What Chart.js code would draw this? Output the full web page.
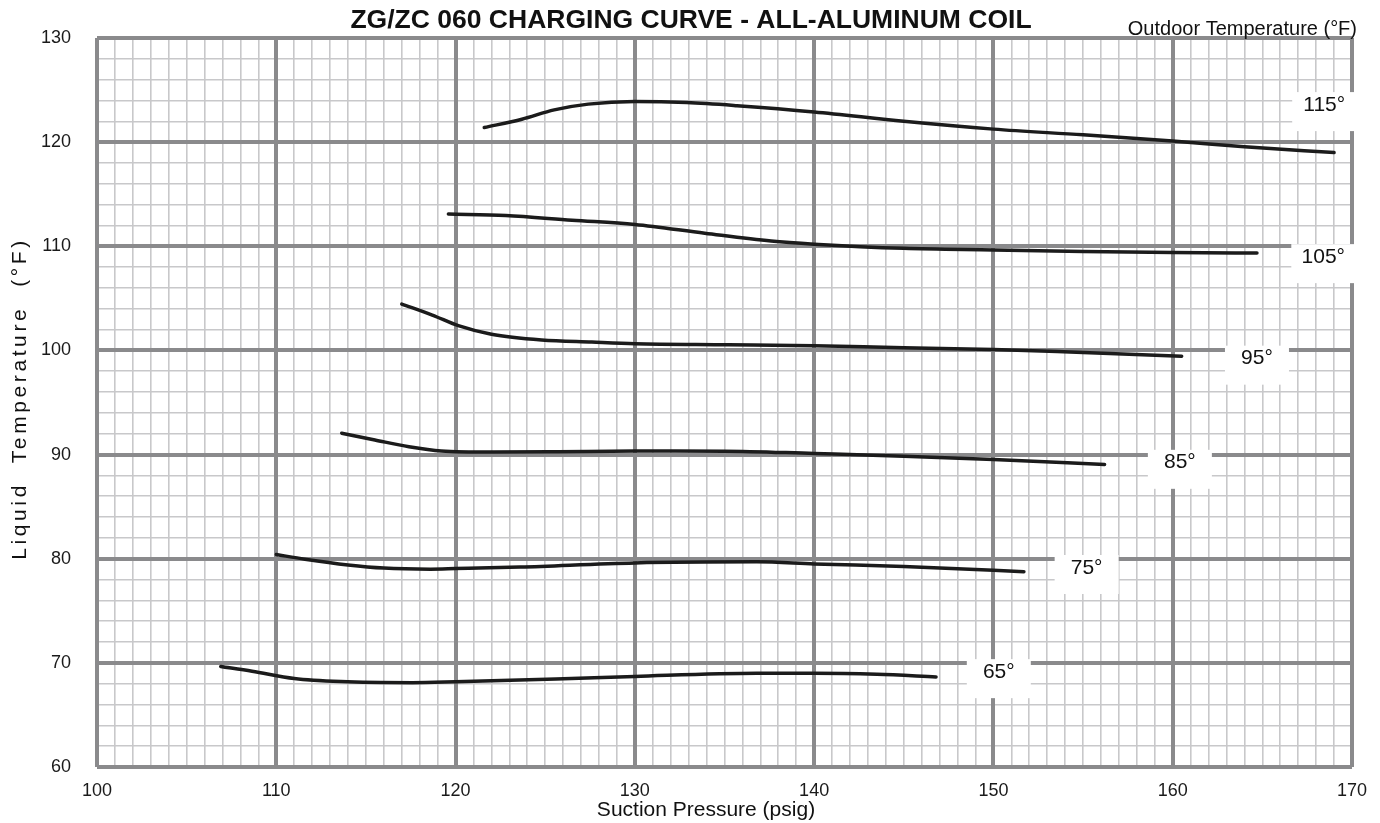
<!DOCTYPE html>
<html>
<head>
<meta charset="utf-8">
<title>ZG/ZC 060 Charging Curve</title>
<script src="https://cdn.jsdelivr.net/npm/chart.js@4.4.1/dist/chart.umd.min.js"></script>
<style>
    html, body { margin: 0; padding: 0; background: #ffffff; }
    #chart { display: block; }
</style>
</head>
<body>
<canvas id="chart" width="1380" height="823"></canvas>
<script>
// Charging curve for the ZG/ZC 060 all-aluminum coil.
// One curve per outdoor temperature: liquid temperature against suction pressure.

const FONT = "'Liberation Sans', Arial, sans-serif";

const outdoorTemps = ['115°', '105°', '95°', '85°', '75°', '65°'];

const pressure115 = [121.6, 123.7, 125.5, 127.4, 130, 132.9, 135.7, 140, 145, 150, 155, 160, 164, 169];
const liquid115 = [121.4, 122.2, 123.1, 123.65, 123.9, 123.8, 123.5, 122.9, 122.0, 121.25, 120.7, 120.1, 119.55, 119.0];

const pressure105 = [119.6, 122.8, 126.5, 130, 133.9, 137.6, 140, 145, 150, 155, 160, 164.7];
const liquid105 = [113.1, 112.95, 112.5, 112.1, 111.25, 110.5, 110.2, 109.8, 109.65, 109.5, 109.4, 109.35];

const pressure95 = [117.0, 118.7, 120.2, 122.0, 124.8, 127.6, 130, 135.2, 140, 145, 150, 155, 160.5];
const liquid95 = [104.45, 103.4, 102.35, 101.55, 101.0, 100.8, 100.65, 100.55, 100.45, 100.25, 100.1, 99.8, 99.45];

const pressure85 = [113.65, 115.5, 117.4, 119.2, 122.0, 125.7, 130, 135, 140, 145, 150, 156.2];
const liquid85 = [92.05, 91.4, 90.75, 90.35, 90.25, 90.28, 90.34, 90.33, 90.1, 89.85, 89.52, 89.05];

const pressure75 = [110.0, 111.6, 114.0, 116.0, 118.6, 120, 123.6, 130, 136.8, 140, 145, 150, 151.7];
const liquid75 = [80.4, 79.95, 79.4, 79.1, 79.0, 79.05, 79.2, 79.6, 79.7, 79.5, 79.25, 78.9, 78.75];

const pressure65 = [106.9, 108.65, 111.0, 113.6, 117.6, 120, 125.6, 130, 136.8, 140, 143.5, 146.8];
const liquid65 = [69.65, 69.2, 68.5, 68.2, 68.1, 68.18, 68.44, 68.7, 69.0, 69.0, 68.9, 68.65];

const pressureTicks = [100, 110, 120, 130, 140, 150, 160, 170];
const liquidTicks = [60, 70, 80, 90, 100, 110, 120, 130];

const curves = [
    [pressure115, liquid115],
    [pressure105, liquid105],
    [pressure95, liquid95],
    [pressure85, liquid85],
    [pressure75, liquid75],
    [pressure65, liquid65]
];

function toPoints(xs, ys) {
    return xs.map((x, i) => ({ x, y: ys[i] }));
}

// white boxes with the outdoor temperature, placed in data units
const curveLabelPlugin = {
    id: 'curveLabels',
    afterDatasetsDraw(chart, args, opts) {
        const { ctx, scales } = chart;
        ctx.save();
        ctx.font = `21px ${FONT}`;
        ctx.textAlign = 'center';
        ctx.textBaseline = 'alphabetic';
        opts.spots.forEach((spot, i) => {
            const px = scales.x.getPixelForValue(spot[0]);
            const py = scales.y.getPixelForValue(spot[1]);
            ctx.fillStyle = '#ffffff';
            ctx.fillRect(px - 32, py - 11, 64, 39);
            ctx.fillStyle = '#111111';
            ctx.fillText(outdoorTemps[i], px, py + 7.5);
        });
        ctx.restore();
    }
};

const titlesPlugin = {
    id: 'titles',
    afterDraw(chart) {
        const { ctx, chartArea } = chart;
        ctx.save();
        ctx.fillStyle = '#111111';

        ctx.font = `bold 26.5px ${FONT}`;
        ctx.textAlign = 'center';
        ctx.fillText('ZG/ZC 060 CHARGING CURVE - ALL-ALUMINUM COIL', 691, 28);

        ctx.font = `20px ${FONT}`;
        ctx.textAlign = 'right';
        ctx.fillText('Outdoor Temperature (°F)', 1357, 35);

        ctx.font = `21px ${FONT}`;
        ctx.textAlign = 'center';
        ctx.fillText('Suction Pressure (psig)', 706, 816);

        ctx.translate(26, (chartArea.top + chartArea.bottom) / 2 - 4);
        ctx.rotate(-Math.PI / 2);
        ctx.font = `21px ${FONT}`;
        ctx.letterSpacing = '3.6px';
        ctx.fillText('Liquid  Temperature  (°F)', 0, 0);
        ctx.restore();
    }
};

function labelEvery10(value, allowed) {
    return allowed.includes(value) ? value : '';
}

const chart = new Chart(document.getElementById('chart'), {
    type: 'scatter',
    data: {
        datasets: curves.map((c, i) => ({
            label: outdoorTemps[i],
            data: toPoints(c[0], c[1]),
            showLine: true,
            borderColor: '#1b1b1b',
            borderWidth: 3.5,
            borderCapStyle: 'round',
            pointRadius: 0,
            cubicInterpolationMode: 'monotone'
        }))
    },
    options: {
        responsive: false,
        animation: false,
        layout: { padding: { top: 38, right: 22, left: 0, bottom: 0 } },
        plugins: {
            legend: { display: false },
            tooltip: { enabled: false },
            curveLabels: {
                spots: [[168.45, 123.75], [168.4, 109.15], [164.7, 99.4], [160.4, 89.4], [155.2, 79.3], [150.3, 69.3]]
            }
        },
        scales: {
            x: {
                type: 'linear',
                position: 'bottom',
                min: 100,
                max: 170,
                afterFit: s => { s.height = 56; },
                ticks: {
                    stepSize: 1,
                    autoSkip: false,
                    maxRotation: 0,
                    padding: 13,
                    color: '#1a1a1a',
                    font: { family: FONT, size: 18 },
                    callback: v => labelEvery10(v, pressureTicks)
                },
                grid: { color: '#c8c8ca', lineWidth: 1.6, drawTicks: false },
                border: { display: false }
            },
            y: {
                type: 'linear',
                position: 'left',
                min: 60,
                max: 130,
                afterFit: s => { s.width = 97; },
                ticks: {
                    stepSize: 2,
                    autoSkip: false,
                    align: 'inner',
                    padding: 26,
                    color: '#1a1a1a',
                    font: { family: FONT, size: 18 },
                    callback: v => labelEvery10(v, liquidTicks)
                },
                grid: { color: '#c8c8ca', lineWidth: 1.6, drawTicks: false },
                border: { display: false }
            },
            xMajor: {
                type: 'linear',
                axis: 'x',
                position: 'bottom',
                min: 100,
                max: 170,
                afterFit: s => { s.height = 0; },
                ticks: { display: false, stepSize: 10 },
                grid: { color: '#8a8a8c', lineWidth: 4, drawTicks: false, z: -0.5 },
                border: { display: false }
            },
            yMajor: {
                type: 'linear',
                axis: 'y',
                position: 'left',
                min: 60,
                max: 130,
                afterFit: s => { s.width = 0; },
                ticks: { display: false, stepSize: 10 },
                grid: { color: '#8a8a8c', lineWidth: 4, drawTicks: false, z: -0.5 },
                border: { display: false }
            }
        }
    },
    plugins: [curveLabelPlugin, titlesPlugin]
});
</script>
</body>
</html>
